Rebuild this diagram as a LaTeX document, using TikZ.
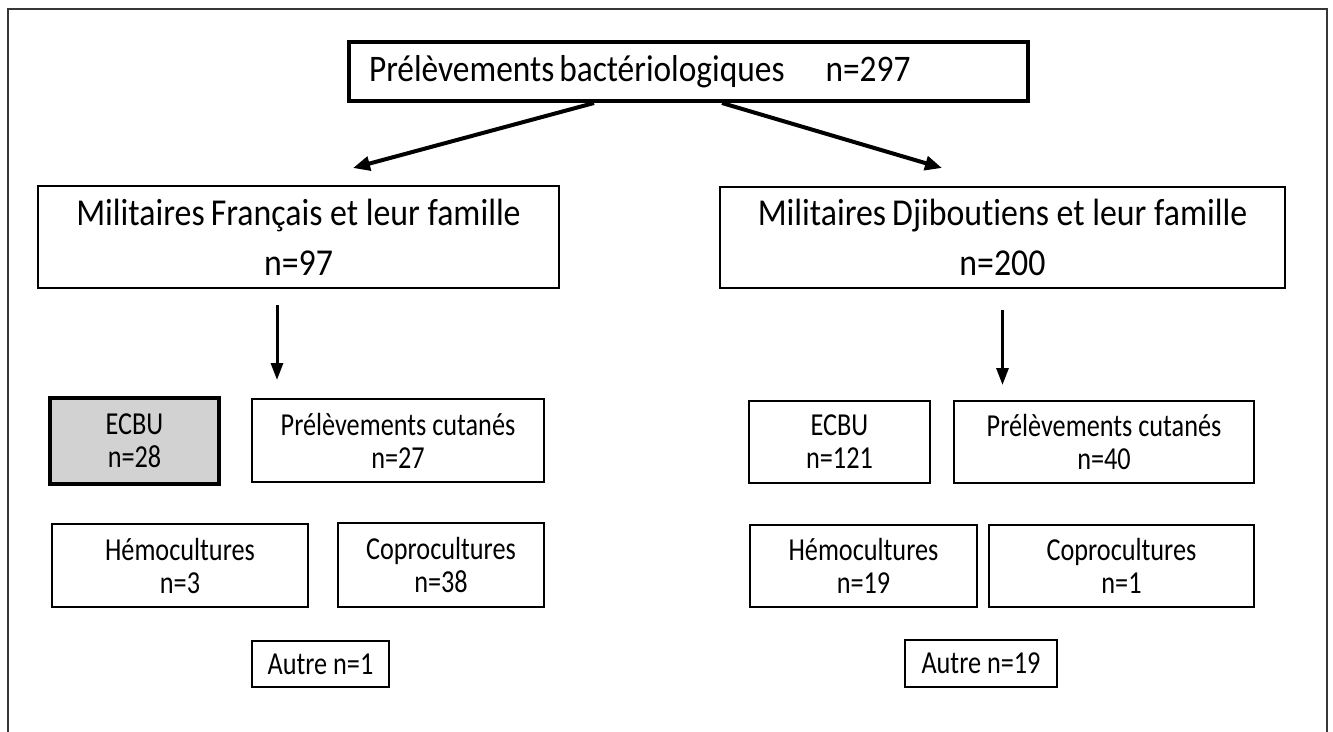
\documentclass[tikz,border=0pt]{standalone}
\usepackage{fontspec}
\setmainfont{Carlito}
\newfontfamily\smallfont[FakeStretch=0.82,Ligatures=NoCommon]{Carlito}
\newfontfamily\bigfont[FakeStretch=0.89,Ligatures=NoCommon]{Carlito}
\usetikzlibrary{arrows.meta}
\definecolor{ecbugray}{RGB}{210,210,210}
\definecolor{framegray}{RGB}{55,55,55}
\begin{document}
\begin{tikzpicture}[x=1pt,y=-1pt,
  bx/.style={draw=black,line width=1.6pt,inner sep=0pt,align=center,font=\smallfont\fontsize{32}{33}\selectfont},
  midbx/.style={draw=black,line width=1.6pt,inner sep=0pt,align=center,font=\bigfont\fontsize{38}{50}\selectfont},
  topbx/.style={draw=black,line width=4pt,inner sep=0pt,font=\bigfont\fontsize{37.5}{40}\selectfont},
  hl/.style={fill=ecbugray,line width=4.5pt},
  darrow/.style={line width=4pt,-{Triangle[length=17pt,width=14pt]}},
  varrow/.style={line width=3pt,-{Triangle[length=17pt,width=12pt]}},
  framestyle/.style={draw=framegray,line width=2.5pt}]
\useasboundingbox (0,0) rectangle (1333,731);
\draw[framestyle] (8,740) -- (8,9) -- (1327,9) -- (1327,740);

\node[topbx,minimum width=679pt,minimum height=59pt,text width=639pt,align=left] (top) at (688.5,71.5)
  {Prélèvements\hspace{5pt}bactériologiques\hspace{41pt}n=297};

\node[midbx,minimum width=521pt,minimum height=102pt] (lmid) at (298.5,237)
  {Militaires\hspace{6pt}Français et leur famille\\n=97};
\node[midbx,minimum width=565pt,minimum height=101pt] (rmid) at (1002.5,237.5)
  {Militaires\hspace{6pt}Djiboutiens et leur famille\\n=200};

\coordinate (ltip) at (353,168);
\coordinate (rtip) at (942,168);
\draw[darrow] ([xshift=-94.5pt]top.south) -- (ltip);
\draw[darrow] ([xshift=33.5pt]top.south) -- (rtip);

\coordinate (lvend) at (277,380);
\coordinate (rvend) at (1002.5,385);
\draw[varrow] (lmid.south -| lvend) ++(0,16) -- (lvend);
\draw[varrow] (rmid.south -| rvend) ++(0,21) -- (rvend);

% left group
\node[bx,hl,minimum width=169pt,minimum height=86pt] (lecbu) at (134.5,441) {ECBU\\n=28};
\node[bx,minimum width=292pt,minimum height=83pt] (lpc) at (398,440.5) {Prélèvements cutanés\\n=27};
\node[bx,minimum width=256pt,minimum height=83pt] (lhemo) at (180,565.5) {Hémocultures\\n=3};
\node[bx,minimum width=206pt,minimum height=84pt] (lcopro) at (441,565) {Coprocultures\\n=38};
\node[bx,minimum width=137pt,minimum height=46pt] (lautre) at (320.5,664) {Autre n=1};

% right group
\node[bx,minimum width=181pt,minimum height=82pt] (recbu) at (839.5,442) {ECBU\\n=121};
\node[bx,minimum width=300pt,minimum height=82pt] (rpc) at (1104,442) {Prélèvements cutanés\\n=40};
\node[bx,minimum width=227pt,minimum height=82pt] (rhemo) at (863.5,566) {Hémocultures\\n=19};
\node[bx,minimum width=265pt,minimum height=82pt] (rcopro) at (1121.5,566) {Coprocultures\\n=1};
\node[bx,minimum width=152pt,minimum height=47pt] (rautre) at (981,663.5) {Autre n=19};
\end{tikzpicture}
\end{document}
